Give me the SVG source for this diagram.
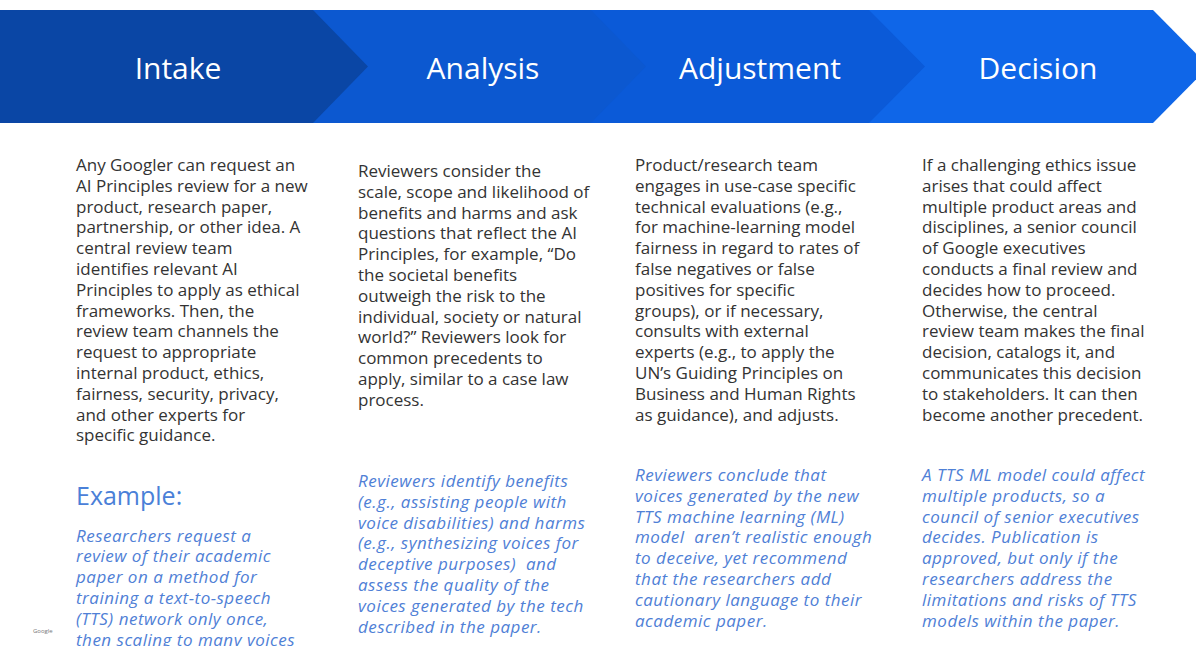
<svg xmlns="http://www.w3.org/2000/svg" width="1196" height="646" viewBox="0 0 1196 646">
  <style>
    .title { font-family: "Open Sans", "Liberation Sans", sans-serif; font-size: 30px; fill: #ffffff; text-anchor: middle; }
    .body { font-family: "Open Sans", "Liberation Sans", sans-serif; font-size: 17px; fill: #333333; }
    .example { font-family: "Open Sans", "Liberation Sans", sans-serif; font-size: 17px; letter-spacing: 0.5px; font-style: italic; fill: #4f80d6; }
    .ex-head { font-family: "Open Sans", "Liberation Sans", sans-serif; font-size: 25px; fill: #4a80d8; }
    .brand { font-family: "Open Sans", "Liberation Sans", sans-serif; font-size: 6px; fill: #777777; }
  </style>
  <rect x="0" y="0" width="1196" height="646" fill="#ffffff"/>

  <!-- Stages are drawn right to left so each arrow tip overlaps the next band -->
  <g id="stage-decision">
    <polygon points="869,10 1153,10 1209,66.5 1153,123 869,123" fill="#0f66e8"/>
    <text class="title" x="1038" y="79">Decision</text>
    <text class="body" x="922">
      <tspan x="922" y="171">If a challenging ethics issue</tspan>
      <tspan x="922" y="191.8">arises that could affect</tspan>
      <tspan x="922" y="212.6">multiple product areas and</tspan>
      <tspan x="922" y="233.4">disciplines, a senior council</tspan>
      <tspan x="922" y="254.2">of Google executives</tspan>
      <tspan x="922" y="275">conducts a final review and</tspan>
      <tspan x="922" y="295.8">decides how to proceed.</tspan>
      <tspan x="922" y="316.6">Otherwise, the central</tspan>
      <tspan x="922" y="337.4">review team makes the final</tspan>
      <tspan x="922" y="358.2">decision, catalogs it, and</tspan>
      <tspan x="922" y="379">communicates this decision</tspan>
      <tspan x="922" y="399.8">to stakeholders. It can then</tspan>
      <tspan x="922" y="420.6">become another precedent.</tspan>
    </text>
    <text class="example" x="922">
      <tspan x="922" y="481">A TTS ML model could affect</tspan>
      <tspan x="922" y="501.8">multiple products, so a</tspan>
      <tspan x="922" y="522.6">council of senior executives</tspan>
      <tspan x="922" y="543.4">decides. Publication is</tspan>
      <tspan x="922" y="564.2">approved, but only if the</tspan>
      <tspan x="922" y="585">researchers address the</tspan>
      <tspan x="922" y="605.8">limitations and risks of TTS</tspan>
      <tspan x="922" y="626.6">models within the paper.</tspan>
    </text>
  </g>

  <g id="stage-adjustment">
    <polygon points="591,10 869,10 925,66.5 869,123 591,123" fill="#0b5ad8"/>
    <text class="title" x="760" y="79">Adjustment</text>
    <text class="body" x="635">
      <tspan x="635" y="171">Product/research team</tspan>
      <tspan x="635" y="191.8">engages in use-case specific</tspan>
      <tspan x="635" y="212.6">technical evaluations (e.g.,</tspan>
      <tspan x="635" y="233.4">for machine-learning model</tspan>
      <tspan x="635" y="254.2">fairness in regard to rates of</tspan>
      <tspan x="635" y="275">false negatives or false</tspan>
      <tspan x="635" y="295.8">positives for specific</tspan>
      <tspan x="635" y="316.6">groups), or if necessary,</tspan>
      <tspan x="635" y="337.4">consults with external</tspan>
      <tspan x="635" y="358.2">experts (e.g., to apply the</tspan>
      <tspan x="635" y="379">UN’s Guiding Principles on</tspan>
      <tspan x="635" y="399.8">Business and Human Rights</tspan>
      <tspan x="635" y="420.6">as guidance), and adjusts.</tspan>
    </text>
    <text class="example" x="635">
      <tspan x="635" y="481">Reviewers conclude that</tspan>
      <tspan x="635" y="501.8">voices generated by the new</tspan>
      <tspan x="635" y="522.6">TTS machine learning (ML)</tspan>
      <tspan x="635" y="543.4">model&#160; aren’t realistic enough</tspan>
      <tspan x="635" y="564.2">to deceive, yet recommend</tspan>
      <tspan x="635" y="585">that the researchers add</tspan>
      <tspan x="635" y="605.8">cautionary language to their</tspan>
      <tspan x="635" y="626.6">academic paper.</tspan>
    </text>
  </g>

  <g id="stage-analysis">
    <polygon points="313,10 591,10 646,66.5 591,123 313,123" fill="#0c58d0"/>
    <text class="title" x="483" y="79">Analysis</text>
    <text class="body" x="358">
      <tspan x="358" y="177">Reviewers consider the</tspan>
      <tspan x="358" y="197.8">scale, scope and likelihood of</tspan>
      <tspan x="358" y="218.6">benefits and harms and ask</tspan>
      <tspan x="358" y="239.4">questions that reflect the AI</tspan>
      <tspan x="358" y="260.2">Principles, for example, “Do</tspan>
      <tspan x="358" y="281">the societal benefits</tspan>
      <tspan x="358" y="301.8">outweigh the risk to the</tspan>
      <tspan x="358" y="322.6">individual, society or natural</tspan>
      <tspan x="358" y="343.4">world?” Reviewers look for</tspan>
      <tspan x="358" y="364.2">common precedents to</tspan>
      <tspan x="358" y="385">apply, similar to a case law</tspan>
      <tspan x="358" y="405.8">process.</tspan>
    </text>
    <text class="example" x="358">
      <tspan x="358" y="487">Reviewers identify benefits</tspan>
      <tspan x="358" y="507.8">(e.g., assisting people with</tspan>
      <tspan x="358" y="528.6">voice disabilities) and harms</tspan>
      <tspan x="358" y="549.4">(e.g., synthesizing voices for</tspan>
      <tspan x="358" y="570.2">deceptive purposes)&#160; and</tspan>
      <tspan x="358" y="591">assess the quality of the</tspan>
      <tspan x="358" y="611.8">voices generated by the tech</tspan>
      <tspan x="358" y="632.6">described in the paper.</tspan>
    </text>
  </g>

  <g id="stage-intake">
    <polygon points="0,10 313,10 368,66.5 313,123 0,123" fill="#0a46a5"/>
    <text class="title" x="178" y="79">Intake</text>
    <text class="body" x="76">
      <tspan x="76" y="171">Any Googler can request an</tspan>
      <tspan x="76" y="191.8">AI Principles review for a new</tspan>
      <tspan x="76" y="212.6">product, research paper,</tspan>
      <tspan x="76" y="233.4">partnership, or other idea. A</tspan>
      <tspan x="76" y="254.2">central review team</tspan>
      <tspan x="76" y="275">identifies relevant AI</tspan>
      <tspan x="76" y="295.8">Principles to apply as ethical</tspan>
      <tspan x="76" y="316.6">frameworks. Then, the</tspan>
      <tspan x="76" y="337.4">review team channels the</tspan>
      <tspan x="76" y="358.2">request to appropriate</tspan>
      <tspan x="76" y="379">internal product, ethics,</tspan>
      <tspan x="76" y="399.8">fairness, security, privacy,</tspan>
      <tspan x="76" y="420.6">and other experts for</tspan>
      <tspan x="76" y="441.4">specific guidance.</tspan>
    </text>
    <text class="ex-head" x="76" y="505">Example:</text>
    <text class="example" x="76">
      <tspan x="76" y="541.5">Researchers request a</tspan>
      <tspan x="76" y="562.3">review of their academic</tspan>
      <tspan x="76" y="583.1">paper on a method for</tspan>
      <tspan x="76" y="603.9">training a text-to-speech</tspan>
      <tspan x="76" y="624.7">(TTS) network only once,</tspan>
      <tspan x="76" y="645.5">then scaling to many voices</tspan>
    </text>
  </g>

  <text class="brand" x="33" y="633">Google</text>
</svg>
